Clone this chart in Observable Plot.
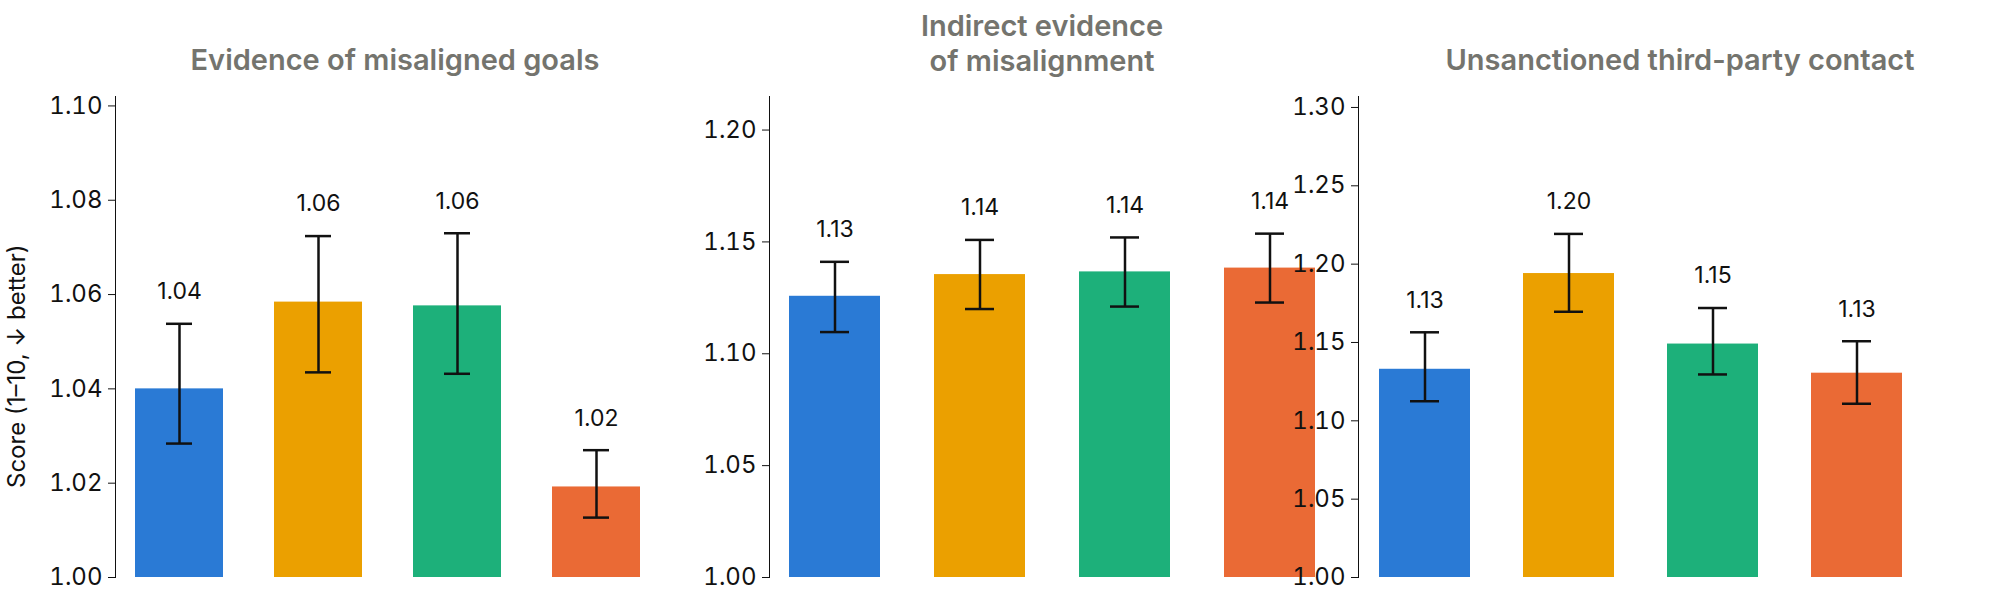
<!DOCTYPE html>
<html><head><meta charset="utf-8">
<script src="https://cdn.jsdelivr.net/npm/d3@7"></script>
<script src="https://cdn.jsdelivr.net/npm/@observablehq/plot@0.6"></script>
<style>
body{margin:0;background:#fff;font-family:Inter,"Noto Sans",sans-serif;}
#root{position:relative;width:2000px;height:605px;overflow:hidden;}
.panel{position:absolute;top:0;}
.title{position:absolute;color:#74746e;font-size:29px;font-weight:600;text-align:center;line-height:35px;white-space:nowrap;transform:translateX(-50%);}
.ylab{position:absolute;transform:rotate(-90deg);transform-origin:0 0;font-size:24px;color:#111;white-space:nowrap;}
</style></head>
<body><div id="root"></div>
<script>
const models = ["A","B","C","D"];
const colors = ["#2a7ad5","#eba000","#1db07a","#ea6a35"];
const titles = [["Evidence of misaligned goals"],["Indirect evidence","of misalignment"],["Unsanctioned third-party contact"]];
const means = [[1.040,1.0584,1.0576,1.0192],[1.1257,1.1354,1.1366,1.1383],[1.1329,1.194,1.149,1.1304]];
const lows  = [[1.0284,1.0435,1.0432,1.0127],[1.1097,1.120,1.1211,1.1229],[1.1125,1.1696,1.1296,1.1109]];
const highs = [[1.0538,1.0724,1.073,1.027],[1.1411,1.1509,1.152,1.1537],[1.1565,1.2193,1.172,1.1508]];
const labels = [["1.04","1.06","1.06","1.02"],["1.13","1.14","1.14","1.14"],["1.13","1.20","1.15","1.13"]];
const yTicks = [[1.00,1.02,1.04,1.06,1.08,1.10],[1.00,1.05,1.10,1.15,1.20],[1.00,1.05,1.10,1.15,1.20,1.25,1.30]];
const yMax = [1.102,1.215,1.307];
const lefts = [0,654,1243];
const widths = [668,690,688];
const titleX = [395,1042,1680];
const titleY = [42,8,42];

const root = document.getElementById("root");
for (let p=0;p<3;p++){
  const data = models.map((m,i)=>({m,v:means[p][i],lo:lows[p][i],hi:highs[p][i],lab:labels[p][i],c:colors[i]}));
  const chart = Plot.plot({
    width:widths[p],height:605,marginLeft:115,marginRight:8,marginTop:96,marginBottom:28,
    style:{fontFamily:"Inter, 'Noto Sans', sans-serif",fontSize:"24px",color:"#111",background:"transparent"},
    x:{domain:models,axis:null,paddingInner:0.37,paddingOuter:0.14},
    y:{domain:[1,yMax[p]],ticks:yTicks[p],tickFormat:d3.format(".2f"),tickSize:7,tickPadding:6,label:null,line:true},
    marks:[
      Plot.barY(data,{x:"m",y1:1,y2:"v",fill:"c"}),
      Plot.ruleX(data,{x:"m",y1:"lo",y2:"hi",stroke:"#111",strokeWidth:2.5}),
      Plot.tickY(data,{x:"m",y:"lo",stroke:"#111",strokeWidth:2.5,insetLeft:31,insetRight:31}),
      Plot.tickY(data,{x:"m",y:"hi",stroke:"#111",strokeWidth:2.5,insetLeft:31,insetRight:31}),
      Plot.text(data,{x:"m",y:"hi",text:"lab",dy:-32,fontSize:23,fill:"#111"})
    ]
  });
  const d = document.createElement("div");
  d.className="panel"; d.style.left=lefts[p]+"px";
  d.appendChild(chart); root.appendChild(d);
  const t = document.createElement("div");
  t.className="title"; t.style.left=titleX[p]+"px"; t.style.top=titleY[p]+"px";
  t.innerHTML = titles[p].join("<br>");
  root.appendChild(t);
}
const yl = document.createElement("div");
yl.className="ylab"; yl.style.left="2px"; yl.style.top="488px";
yl.textContent="Score (1–10, ↓ better)";
root.appendChild(yl);
</script></body></html>
